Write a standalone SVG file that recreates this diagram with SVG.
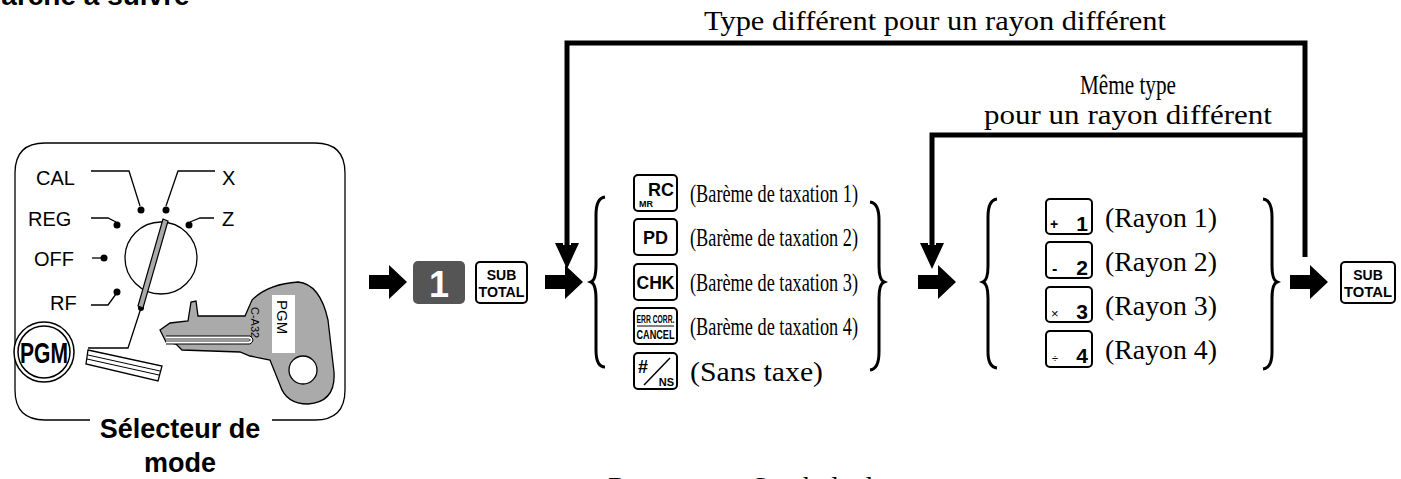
<svg xmlns="http://www.w3.org/2000/svg" width="1401" height="479" viewBox="0 0 1401 479">
<style>
.t{font-family:"Liberation Serif",serif;fill:#000}
.a{font-family:"Liberation Sans",Arial,sans-serif;fill:#000}
.ab{font-family:"Liberation Sans",Arial,sans-serif;font-weight:bold;fill:#000}
.key{fill:#fff;stroke:#000;stroke-width:2}
.ln{fill:none;stroke:#000;stroke-width:5}
.thin{fill:none;stroke:#000;stroke-width:1.3}
.br{fill:none;stroke:#000;stroke-width:3}
</style>
<defs>
<path id="arr" d="M0,-7 L20,-7 L20,-17 L38,0 L20,17 L20,7 L0,7 Z" fill="#000"/>
<path id="darr" d="M-4,0 L4,0 L4,-2 L12,-2 L0,24 L-12,-2 L-4,-2 Z" fill="#000"/>
</defs>
<rect width="1401" height="479" fill="#fff"/>
<text class="ab" x="-22" y="5" font-size="28">Marche à suivre</text>

<g id="selector">
<path d="M90,420 L45,420 Q15,420 15,390 L15,173 Q15,143 45,143 L315,143 Q345,143 345,173 L345,390 Q345,420 315,420 L272,420" class="thin" stroke-width="2"/>
<text class="ab" x="180" y="438" font-size="27" text-anchor="middle">Sélecteur de</text>
<text class="ab" x="180" y="472" font-size="27" text-anchor="middle">mode</text>
<circle cx="161" cy="258" r="36" class="thin" fill="#fff"/>
<g class="a" font-size="20">
<text x="36" y="185">CAL</text><text x="28" y="226">REG</text><text x="34" y="266">OFF</text><text x="50" y="310">RF</text>
<text x="222" y="185">X</text><text x="222" y="226">Z</text>
</g>
<g class="thin">
<polyline points="91,171 129,171 140,206"/>
<polyline points="215,171 178,171 166,206"/>
<polyline points="91,218 108,218 116,222"/>
<polyline points="214,218 200,218 190,222"/>
<polyline points="92,258 103,258"/>
<polyline points="91,305 108,305 116,294"/>
<polyline points="141,308 128,348 88,348"/>
</g>
<g fill="#000">
<circle cx="141" cy="210" r="3.5"/><circle cx="166" cy="210" r="3.5"/><circle cx="117" cy="225" r="3.5"/><circle cx="189" cy="225" r="3.5"/><circle cx="104" cy="258" r="3.5"/><circle cx="117" cy="292" r="3.5"/><circle cx="141" cy="308" r="3"/>
</g>
<polygon points="163,219 168,221 143,308 138,306" fill="#aaa" stroke="#000" stroke-width="1.2"/>
<g id="key">
<path d="M160,330 L170,323 L188,321 L191,302 L196,301 L198,316 L245,316 L252,300 Q268,284 298,282 Q320,284 328,320 L334,372 Q336,402 308,404 Q286,404 280,385 L270,360 L250,356 L240,352 L182,350 L176,344 L166,342 Z" fill="#aaa" stroke="#000" stroke-width="1.3"/>
<path d="M166,336 L250,336 Q256,340 250,344 L166,344" fill="#fff" stroke="#000" stroke-width="1"/>
<path d="M166,339 L249,339 Q252,340 249,341 L166,341" fill="none" stroke="#000" stroke-width="0.8"/>
<rect x="272" y="295" width="23" height="58" fill="#fff"/>
<text class="a" font-size="15" transform="translate(277,300) rotate(90)">PGM</text>
<text class="a" font-size="11" transform="translate(251,307) rotate(90)">C-A32</text>
<circle cx="303" cy="370" r="14" fill="#fff" stroke="#000" stroke-width="1.3"/>
</g>
<g id="magnifier">
<polygon points="88,350 162,366 158,381 86,364" fill="#fff" stroke="#000" stroke-width="1.3"/>
<line x1="88" y1="355" x2="160" y2="371" stroke="#000" stroke-width="1"/>
<line x1="87" y1="359" x2="159" y2="375" stroke="#000" stroke-width="1"/>
<circle cx="44" cy="352" r="30" fill="#fff" stroke="#000" stroke-width="1.5"/>
<circle cx="44" cy="352" r="26" fill="none" stroke="#000" stroke-width="1.5"/>
<text class="ab" x="44" y="363" font-size="30" text-anchor="middle" textLength="48" lengthAdjust="spacingAndGlyphs">PGM</text>
</g>
</g>

<g id="connectors">
<polyline class="ln" points="567,246 567,43 1305,43 1305,257"/>
<polyline class="ln" points="932,246 932,135 1305,135"/>
<use href="#darr" x="567" y="245"/>
<use href="#darr" x="932" y="245"/>
<use href="#arr" x="369" y="282"/>
<use href="#arr" x="545" y="282"/>
<use href="#arr" x="918" y="282"/>
<use href="#arr" x="1290" y="282"/>
<text class="t" x="935" y="30" font-size="28" text-anchor="middle" textLength="462" lengthAdjust="spacingAndGlyphs">Type différent pour un rayon différent</text>
<text class="t" x="1128" y="94" font-size="28" text-anchor="middle" textLength="96" lengthAdjust="spacingAndGlyphs">Même type</text>
<text class="t" x="1128" y="124" font-size="28" text-anchor="middle" textLength="288" lengthAdjust="spacingAndGlyphs">pour un rayon différent</text>
</g>

<g id="start">
<rect x="413" y="261" width="52" height="43" rx="5" fill="#555"/>
<text class="ab" x="439" y="297" font-size="36" style="fill:#fff" text-anchor="middle">1</text>
<rect x="476" y="262" width="51" height="41" rx="4" class="key"/>
<text class="ab" x="501.5" y="280" font-size="14" text-anchor="middle">SUB</text>
<text class="ab" x="501.5" y="297" font-size="14" text-anchor="middle" textLength="46" lengthAdjust="spacingAndGlyphs">TOTAL</text>
</g>

<g id="taxgroup">
<path class="br" d="M605,197 Q596,198 596,215 L596,265 Q596,280 591,282 Q596,284 596,299 L596,350 Q596,367 605,367"/>
<path class="br" d="M870,202 Q879,203 879,220 L879,266 Q879,280 884,282 Q879,284 879,298 L879,352 Q879,369 870,370"/>
<g>
<rect x="634" y="175" width="43" height="36" rx="4" class="key"/>
<text class="ab" x="674" y="196" font-size="18" text-anchor="end">RC</text>
<text class="ab" x="639" y="207" font-size="9">MR</text>
<rect x="634" y="219" width="43" height="36" rx="4" class="key"/>
<text class="ab" x="655.5" y="244" font-size="18" text-anchor="middle">PD</text>
<rect x="634" y="264" width="43" height="36" rx="4" class="key"/>
<text class="ab" x="655.5" y="289" font-size="18" text-anchor="middle" textLength="38" lengthAdjust="spacingAndGlyphs">CHK</text>
<rect x="634" y="308" width="43" height="36" rx="4" class="key"/>
<text class="ab" x="655.5" y="323" font-size="10" text-anchor="middle" textLength="38" lengthAdjust="spacingAndGlyphs">ERR CORR.</text>
<line x1="637" y1="326" x2="674" y2="326" stroke="#000" stroke-width="1"/>
<text class="ab" x="655.5" y="339" font-size="12" text-anchor="middle" textLength="38" lengthAdjust="spacingAndGlyphs">CANCEL</text>
<rect x="634" y="353" width="43" height="36" rx="4" class="key"/>
<text class="ab" x="638" y="373" font-size="18">#</text>
<line x1="670" y1="358" x2="644" y2="385" stroke="#000" stroke-width="1.5"/>
<text class="ab" x="674" y="386" font-size="11" text-anchor="end">NS</text>
</g>
<g class="t" font-size="25">
<text x="690" y="202" textLength="168" lengthAdjust="spacingAndGlyphs">(Barème de taxation 1)</text>
<text x="690" y="246" textLength="168" lengthAdjust="spacingAndGlyphs">(Barème de taxation 2)</text>
<text x="690" y="291" textLength="168" lengthAdjust="spacingAndGlyphs">(Barème de taxation 3)</text>
<text x="690" y="335" textLength="168" lengthAdjust="spacingAndGlyphs">(Barème de taxation 4)</text>
<text x="690" y="381" font-size="27" textLength="133" lengthAdjust="spacingAndGlyphs">(Sans taxe)</text>
</g>
</g>

<g id="deptgroup">
<path class="br" d="M997,199 Q988,200 988,217 L988,266 Q988,280 983,282 Q988,284 988,298 L988,352 Q988,367 997,368"/>
<path class="br" d="M1263,199 Q1272,200 1272,217 L1272,266 Q1272,280 1277,282 Q1272,284 1272,298 L1272,352 Q1272,368 1263,369"/>
<rect x="1046" y="199" width="46" height="35" rx="4" class="key"/>
<text class="ab" x="1050" y="229" font-size="14">+</text><text class="ab" x="1088" y="231" font-size="21" text-anchor="end">1</text>
<rect x="1046" y="242" width="46" height="36" rx="4" class="key"/>
<text class="ab" x="1052" y="274" font-size="16">-</text><text class="ab" x="1088" y="275" font-size="21" text-anchor="end">2</text>
<rect x="1046" y="287" width="46" height="35" rx="4" class="key"/>
<text class="a" x="1051" y="318" font-size="13">×</text><text class="ab" x="1088" y="319" font-size="21" text-anchor="end">3</text>
<rect x="1046" y="331" width="46" height="36" rx="4" class="key"/>
<text class="a" x="1052" y="362" font-size="11">÷</text><text class="ab" x="1088" y="363" font-size="21" text-anchor="end">4</text>
<g class="t" font-size="27">
<text x="1105" y="227" textLength="112" lengthAdjust="spacingAndGlyphs">(Rayon 1)</text>
<text x="1105" y="271" textLength="112" lengthAdjust="spacingAndGlyphs">(Rayon 2)</text>
<text x="1105" y="315" textLength="112" lengthAdjust="spacingAndGlyphs">(Rayon 3)</text>
<text x="1105" y="359" textLength="112" lengthAdjust="spacingAndGlyphs">(Rayon 4)</text>
</g>
</g>

<g id="end">
<rect x="1341" y="262" width="54" height="41" rx="4" class="key"/>
<text class="ab" x="1368" y="280" font-size="14" text-anchor="middle">SUB</text>
<text class="ab" x="1368" y="297" font-size="14" text-anchor="middle" textLength="48" lengthAdjust="spacingAndGlyphs">TOTAL</text>
</g>

<text class="t" x="608" y="496" font-size="28">Rayon</text>
<text class="t" x="752" y="496" font-size="28">Symbole de taxe</text>
</svg>
